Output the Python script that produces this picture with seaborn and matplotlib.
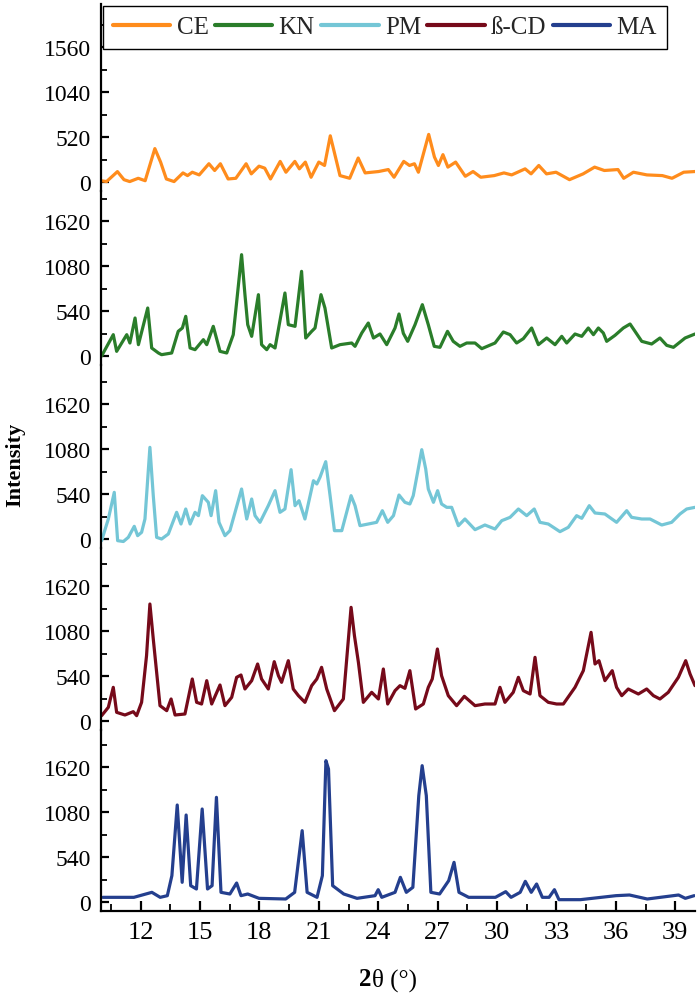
import matplotlib
matplotlib.use('Agg')
import matplotlib.pyplot as plt
import seaborn as sns
from matplotlib.ticker import MultipleLocator, FixedLocator

# ---------------- data (2θ in degrees, intensity) ----------------
ce_x = [10.0, 10.28, 10.83, 11.16, 11.45, 11.88, 12.23, 12.72, 13.01, 13.3, 13.69, 14.14, 14.37, 14.61,
        14.96, 15.45, 15.74, 16.03, 16.42, 16.81, 17.33, 17.59, 17.98, 18.27, 18.56, 19.05, 19.34, 19.79,
        20.02, 20.32, 20.61, 21.0, 21.29, 21.58, 21.78, 22.07, 22.56, 22.99, 23.34, 24.02, 24.51, 24.8,
        25.29, 25.58, 25.83, 26.03, 26.55, 26.84, 27.04, 27.27, 27.52, 27.91, 28.4, 28.79, 29.18, 29.86,
        30.35, 30.74, 31.42, 31.72, 32.11, 32.5, 32.98, 33.66, 34.35, 34.93, 35.42, 36.11, 36.4, 36.89,
        37.57, 38.35, 38.84, 39.43, 40.0]
ce_y = [15, 5, 120, 27, 5, 43, 15, 386, 230, 35, 5, 105, 74, 113,
        82, 211, 133, 211, 35, 43, 211, 94, 183, 160, 35, 238, 113, 238,
        152, 230, 55, 230, 191, 534, 347, 74, 43, 277, 105, 121, 144, 55,
        238, 191, 211, 113, 550, 289, 191, 316, 172, 230, 66, 121, 55, 74,
        105, 82, 152, 94, 191, 94, 113, 27, 94, 172, 133, 144, 43, 113,
        82, 74, 43, 113, 121]

kn_x = [10.03, 10.62, 10.79, 11.3, 11.46, 11.72, 11.89, 12.36, 12.56, 12.9, 13.06, 13.57, 13.9, 14.11,
        14.28, 14.5, 14.75, 15.17, 15.34, 15.67, 16.01, 16.35, 16.68, 17.1, 17.27, 17.41, 17.61, 17.95,
        18.11, 18.37, 18.54, 18.79, 19.29, 19.46, 19.8, 20.13, 20.34, 20.64, 20.81, 21.11, 21.31, 21.48,
        21.65, 22.07, 22.66, 22.83, 23.17, 23.5, 23.76, 24.09, 24.43, 24.85, 25.05, 25.27, 25.49, 25.86,
        26.23, 26.53, 26.83, 27.12, 27.5, 27.79, 28.13, 28.47, 28.89, 29.23, 29.9, 30.32, 30.66, 30.99,
        31.33, 31.75, 32.09, 32.51, 32.93, 33.27, 33.52, 33.94, 34.28, 34.61, 34.87, 35.12, 35.37, 35.54,
        35.96, 36.38, 36.72, 36.97, 37.31, 37.81, 38.23, 38.57, 38.91, 39.5, 40.0]
kn_y = [0, 256, 56, 256, 156, 456, 136, 576, 96, 36, 16, 36, 296, 336,
        476, 96, 76, 196, 136, 356, 56, 36, 256, 1216, 736, 376, 236, 736,
        136, 76, 136, 96, 756, 376, 356, 1016, 216, 296, 336, 736, 576, 336,
        96, 136, 156, 116, 276, 396, 216, 264, 136, 336, 504, 272, 176, 376,
        616, 376, 116, 104, 296, 176, 116, 156, 156, 88, 156, 288, 256, 156,
        208, 336, 136, 216, 136, 236, 156, 264, 236, 336, 256, 336, 276, 176,
        248, 336, 384, 296, 176, 144, 216, 128, 104, 216, 264]

pm_x = [10.03, 10.37, 10.67, 10.84, 11.13, 11.38, 11.68, 11.85, 12.05, 12.22, 12.47, 12.64, 12.81, 13.06,
        13.4, 13.82, 14.04, 14.28, 14.5, 14.75, 14.92, 15.12, 15.42, 15.56, 15.79, 15.96, 16.26, 16.51,
        17.1, 17.36, 17.61, 17.78, 18.03, 18.45, 18.79, 19.04, 19.29, 19.6, 19.8, 20.0, 20.3, 20.73,
        20.9, 21.06, 21.35, 21.57, 21.79, 22.16, 22.63, 22.83, 23.08, 23.5, 23.92, 24.21, 24.48, 24.77,
        25.05, 25.35, 25.6, 25.77, 25.99, 26.2, 26.4, 26.53, 26.79, 27.0, 27.2, 27.46, 27.71, 28.05,
        28.38, 28.89, 29.39, 29.9, 30.24, 30.66, 31.08, 31.5, 31.88, 32.17, 32.59, 33.18, 33.6, 34.02,
        34.28, 34.66, 34.95, 35.45, 36.04, 36.55, 36.8, 37.31, 37.73, 38.32, 38.82, 39.24, 39.58, 40.0]
pm_y = [-20, 240, 560, -20, -30, 20, 152, 40, 80, 240, 1100, 520, 20, 0,
        60, 320, 180, 360, 180, 320, 280, 520, 440, 280, 580, 200, 40, 100,
        600, 240, 480, 280, 200, 400, 580, 320, 360, 832, 400, 460, 240, 700,
        660, 740, 928, 520, 100, 100, 520, 400, 160, 180, 200, 340, 200, 280,
        528, 440, 420, 520, 800, 1072, 840, 600, 440, 580, 420, 380, 380, 160,
        240, 112, 168, 120, 220, 260, 360, 280, 360, 200, 180, 88, 140, 280,
        248, 400, 312, 300, 200, 340, 260, 240, 240, 168, 200, 300, 360, 380]

cd_x = [10.03, 10.37, 10.62, 10.79, 11.21, 11.63, 11.8, 12.05, 12.3, 12.47, 12.64, 12.81, 12.98, 13.32,
        13.54, 13.74, 14.24, 14.61, 14.83, 15.08, 15.34, 15.59, 16.01, 16.26, 16.6, 16.85, 17.07, 17.27,
        17.61, 17.91, 18.11, 18.45, 18.75, 18.96, 19.12, 19.46, 19.71, 19.97, 20.3, 20.64, 20.9, 21.14,
        21.4, 21.79, 22.24, 22.63, 22.8, 23.0, 23.25, 23.67, 24.01, 24.26, 24.48, 24.85, 25.1, 25.35,
        25.6, 25.89, 26.28, 26.53, 26.73, 26.99, 27.2, 27.54, 27.96, 28.35, 28.89, 29.39, 29.9, 30.15,
        30.4, 30.82, 31.08, 31.33, 31.67, 31.92, 32.17, 32.59, 33.01, 33.35, 33.94, 34.36, 34.75, 34.95,
        35.15, 35.45, 35.82, 36.04, 36.3, 36.63, 37.14, 37.56, 37.9, 38.23, 38.65, 39.16, 39.53, 39.75,
        40.0]
cd_y = [64, 164, 404, 104, 72, 112, 64, 224, 784, 1404, 984, 584, 184, 124,
        264, 72, 84, 504, 224, 204, 484, 204, 432, 184, 284, 524, 552, 384,
        484, 684, 504, 384, 712, 544, 464, 724, 384, 304, 224, 424, 504, 644,
        384, 124, 264, 1364, 1024, 704, 224, 344, 264, 624, 204, 364, 424, 392,
        604, 144, 204, 404, 504, 864, 544, 304, 184, 296, 184, 204, 204, 404,
        224, 344, 524, 364, 324, 764, 304, 224, 204, 204, 404, 604, 1064, 684,
        724, 484, 604, 404, 304, 384, 324, 384, 304, 264, 344, 524, 724, 564,
        424]

ma_x = [10.09, 11.66, 12.57, 12.99, 13.35, 13.58, 13.85, 14.1, 14.3, 14.53, 14.82, 15.11, 15.38, 15.61,
        15.83, 16.06, 16.51, 16.85, 17.07, 17.41, 17.98, 19.33, 19.78, 20.16, 20.41, 20.91, 21.18, 21.36,
        21.49, 21.7, 22.26, 22.93, 23.84, 24.0, 24.18, 24.85, 25.12, 25.42, 25.75, 26.05, 26.22, 26.43,
        26.66, 27.1, 27.56, 27.83, 28.08, 28.57, 29.92, 30.44, 30.71, 31.17, 31.43, 31.73, 32.0, 32.29,
        32.63, 32.9, 33.13, 34.21, 36.01, 36.69, 37.59, 39.17, 39.51, 39.96]
ma_y = [56, 56, 116, 56, 76, 316, 1164, 236, 1044, 196, 156, 1116, 156, 196,
        1256, 116, 96, 228, 76, 96, 44, 36, 116, 856, 116, 56, 316, 1696,
        1596, 196, 96, 44, 76, 148, 56, 116, 296, 116, 176, 1276, 1636, 1276,
        116, 96, 256, 476, 116, 56, 56, 124, 56, 116, 248, 116, 216, 56,
        56, 148, 28, 28, 76, 84, 36, 84, 44, 76]

names = ["CE", "KN", "PM", "ß-CD", "MA"]
colors = ["#FF8C1C", "#2A7D2A", "#74C6D6", "#760A1A", "#243F8E"]
series = [(ce_x, ce_y), (kn_x, kn_y), (pm_x, pm_y), (cd_x, cd_y), (ma_x, ma_y)]
ytick_sets = [[0, 520, 1040, 1560], [0, 540, 1080, 1620], [0, 540, 1080, 1620],
              [0, 540, 1080, 1620], [0, 540, 1080, 1620]]
ylims = [(-104, 2057), (-108, 1980), (-108, 2088), (-108, 2076), (-108, 2064)]
xticks = [12, 15, 18, 21, 24, 27, 30, 33, 36, 39]

# ---------------- figure ----------------
sns.set_theme(style="white")
plt.rcParams['font.family'] = ['Liberation Serif', 'DejaVu Serif']

W, H = 700, 995
fig = plt.figure(figsize=(W / 100, H / 100), dpi=100)
bounds = [5, 192, 366, 549, 731, 912]
left_px, right_px = 101, 695

handles = []
for i, ((xs, ys), name, col) in enumerate(zip(series, names, colors)):
    top, bot = bounds[i], bounds[i + 1]
    ax = fig.add_axes([left_px / W, 1 - bot / H, (right_px - left_px) / W, (bot - top) / H])
    ax.patch.set_alpha(0)
    sns.lineplot(x=xs, y=ys, ax=ax, color=col, lw=2.3, estimator=None, sort=False, legend=False)
    handles.append(ax.get_lines()[0])
    ax.set_xlim(10, 40)
    ax.set_ylim(*ylims[i])
    ax.yaxis.set_major_locator(FixedLocator(ytick_sets[i]))
    ax.yaxis.set_minor_locator(MultipleLocator(ytick_sets[i][1] / 2))
    ax.xaxis.set_major_locator(FixedLocator(xticks))
    ax.xaxis.set_minor_locator(MultipleLocator(1.5))
    for s in ['top', 'right']:
        ax.spines[s].set_visible(False)
    ax.spines['left'].set_linewidth(1.6)
    ax.spines['left'].set_color('black')
    ax.tick_params(axis='y', which='major', direction='in', length=6, width=1.6,
                   labelsize=17, pad=7, colors='black', left=True)
    ax.tick_params(axis='y', which='minor', direction='in', length=4, width=1.3, left=True, colors='black')
    ax.set_xlabel('')
    ax.set_ylabel('')
    if i < 4:
        ax.spines['bottom'].set_visible(False)
        ax.tick_params(axis='x', which='both', bottom=False, labelbottom=False)
    else:
        ax.spines['bottom'].set_linewidth(1.6)
        ax.spines['bottom'].set_color('black')
        ax.tick_params(axis='x', which='major', direction='in', length=7, width=1.6,
                       labelsize=19, pad=7, colors='black', bottom=True)
        ax.tick_params(axis='x', which='minor', direction='in', length=5, width=1.3,
                       bottom=True, colors='black')

leg = fig.legend(handles, names, loc='upper left', bbox_to_anchor=(103 / W, 1 - 7 / H),
                 ncol=5, fontsize=18, handlelength=2.3, handletextpad=0.25, columnspacing=0.25,
                 borderpad=0.4, borderaxespad=0, fancybox=False, frameon=True, framealpha=1,
                 edgecolor='black')
leg.get_frame().set_linewidth(1.0)
for lh in leg.get_lines():
    lh.set_linewidth(3)

fig.text(15 / W, 1 - 465 / H, 'Intensity', rotation=90, ha='center', va='center',
         fontsize=16, fontweight='bold', color='black')
fig.text(371 / W, 1 - 980 / H, '2', ha='right', va='center', fontsize=18,
         fontweight='bold', color='black')
fig.text(372 / W, 1 - 980 / H, 'θ (°)', ha='left', va='center', fontsize=18, color='black')

fig.savefig('out.png', dpi=100)
